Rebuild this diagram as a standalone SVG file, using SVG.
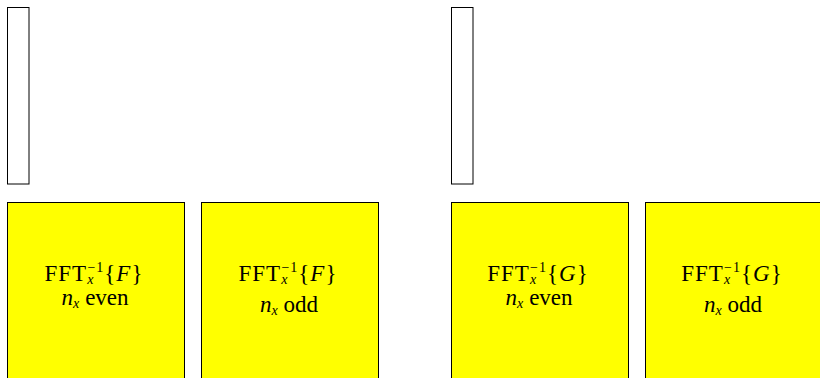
<svg xmlns="http://www.w3.org/2000/svg" width="820" height="378" viewBox="0 0 820 378">
<style>
.thin{fill:#fff;stroke:#000;stroke-width:1}
.box{fill:#ffff00;stroke:#000;stroke-width:1}
text{font-family:"Liberation Serif","DejaVu Serif",serif;font-size:23px;fill:#000;text-anchor:middle}
.l1{letter-spacing:1px}
.it{font-style:italic}
.sm{font-size:14px}
</style>
<g id="bar-left"><rect class="thin" x="7.5" y="7.5" width="21.5" height="176.5"/></g>
<g id="bar-right"><rect class="thin" x="451.5" y="7.5" width="21.5" height="176.5"/></g>
<g id="fft-f-even">
<rect class="box" x="7.5" y="202.5" width="177" height="190"/>
<text class="l1" x="94" y="281">FFT<tspan class="sm it" dy="3">x</tspan><tspan class="sm" dx="-7" dy="-12">−1</tspan><tspan dy="9">{</tspan><tspan class="it">F</tspan>}</text>
<text x="95" y="305"><tspan class="it">n</tspan><tspan class="sm it" dy="3">x</tspan><tspan dy="-3" dx="6">even</tspan></text>
</g>
<g id="fft-f-odd">
<rect class="box" x="201.5" y="202.5" width="177" height="190"/>
<text class="l1" x="288" y="281">FFT<tspan class="sm it" dy="3">x</tspan><tspan class="sm" dx="-7" dy="-12">−1</tspan><tspan dy="9">{</tspan><tspan class="it">F</tspan>}</text>
<text x="289" y="311.5"><tspan class="it">n</tspan><tspan class="sm it" dy="3">x</tspan><tspan dy="-3" dx="6">odd</tspan></text>
</g>
<g id="fft-g-even">
<rect class="box" x="451.5" y="202.5" width="177" height="190"/>
<text class="l1" x="538" y="281">FFT<tspan class="sm it" dy="3">x</tspan><tspan class="sm" dx="-7" dy="-12">−1</tspan><tspan dy="9">{</tspan><tspan class="it">G</tspan>}</text>
<text x="539" y="305"><tspan class="it">n</tspan><tspan class="sm it" dy="3">x</tspan><tspan dy="-3" dx="6">even</tspan></text>
</g>
<g id="fft-g-odd">
<rect class="box" x="645.5" y="202.5" width="177" height="190"/>
<text class="l1" x="732" y="281">FFT<tspan class="sm it" dy="3">x</tspan><tspan class="sm" dx="-7" dy="-12">−1</tspan><tspan dy="9">{</tspan><tspan class="it">G</tspan>}</text>
<text x="733" y="311.5"><tspan class="it">n</tspan><tspan class="sm it" dy="3">x</tspan><tspan dy="-3" dx="6">odd</tspan></text>
</g>
<g id="connectors"/>
</svg>
